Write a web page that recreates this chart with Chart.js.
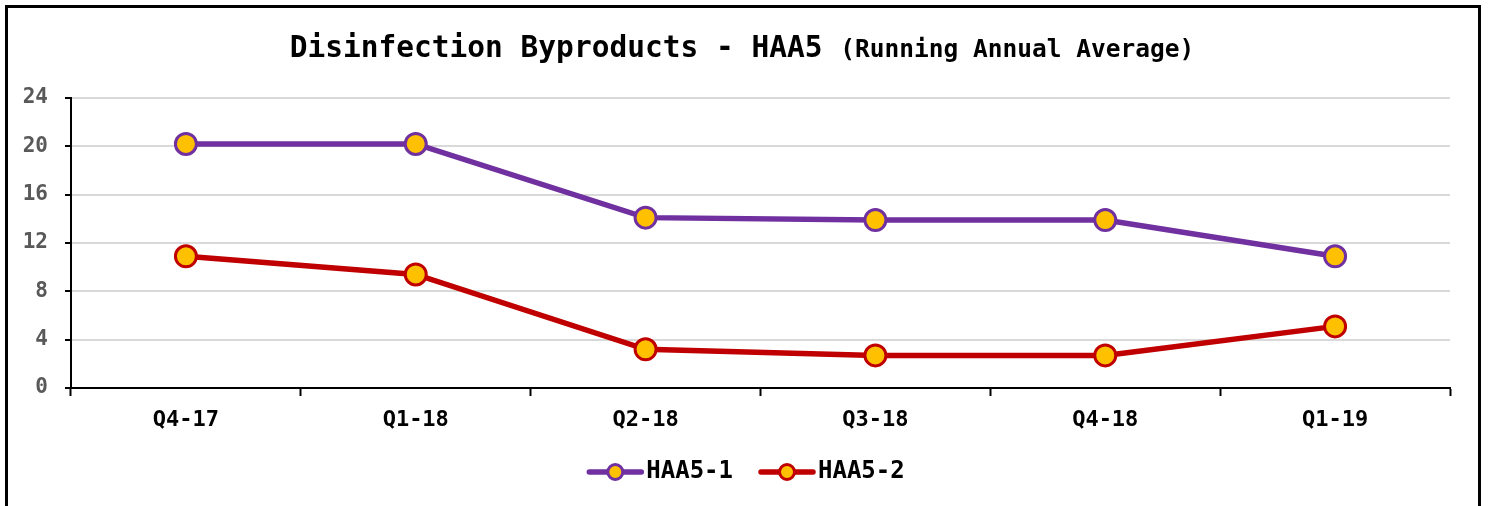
<!DOCTYPE html>
<html>
<head>
<meta charset="utf-8">
<script src="https://cdn.jsdelivr.net/npm/chart.js@4.4.1/dist/chart.umd.min.js"></script>
<style>
    html, body { margin: 0; padding: 0; background: #fff; }
    #wrap { position: relative; width: 1489px; height: 506px; overflow: hidden; }
    #frame { position: absolute; left: 5px; top: 5px; width: 1470px; height: 600px; border: 3px solid #000; }
    #box { position: absolute; left: 0; top: 0; width: 1489px; height: 506px; }
</style>
</head>
<body>
<div id="wrap">
    <div id="frame"></div>
    <div id="box"><canvas id="dbpChart"></canvas></div>
</div>
<script>
const quarters = ['Q4-17', 'Q1-18', 'Q2-18', 'Q3-18', 'Q4-18', 'Q1-19'];
const haa5One = [20.2, 20.2, 14.1, 13.9, 13.9, 10.9];
const haa5Two = [10.9, 9.4, 3.2, 2.7, 2.7, 5.1];
const seriesNames = ['HAA5-1', 'HAA5-2'];
const seriesColors = ['#7030A0', '#C00000'];
const markerFill = '#FFC000';
const titleMain = 'Disinfection Byproducts - HAA5';
const titleSub = '(Running Annual Average)';

const MONO = '"DejaVu Sans Mono", "Liberation Mono", monospace';

// title in two sizes, like the original
const titlePlugin = {
    id: 'twoPartTitle',
    afterDraw(chart) {
        const ctx = chart.ctx;
        ctx.save();
        ctx.fillStyle = '#000';
        ctx.textBaseline = 'alphabetic';
        ctx.font = 'bold 29.5px ' + MONO;
        const w1 = ctx.measureText(titleMain + ' ').width;
        ctx.font = 'bold 24.5px ' + MONO;
        const w2 = ctx.measureText(titleSub).width;
        let x = 742 - (w1 + w2) / 2;
        ctx.font = 'bold 29.5px ' + MONO;
        ctx.fillText(titleMain, x, 57);
        ctx.font = 'bold 24.5px ' + MONO;
        ctx.fillText(titleSub, x + w1, 57);
        ctx.restore();
    }
};

// legend drawn as line + marker, the way the spreadsheet does it
const legendPlugin = {
    id: 'lineLegend',
    afterDraw(chart) {
        const ctx = chart.ctx;
        const sets = chart.data.datasets;
        const lineLen = 56, textGap = 3, itemGap = 26, y = 472;
        ctx.save();
        ctx.font = 'bold 24px ' + MONO;
        const widths = sets.map(ds => ctx.measureText(ds.label).width);
        let total = 0;
        widths.forEach((w, i) => { total += lineLen + textGap + w + (i ? itemGap : 0); });
        let x = 746 - total / 2;
        sets.forEach((ds, i) => {
            ctx.strokeStyle = ds.borderColor;
            ctx.lineWidth = 5.5;
            ctx.lineCap = 'round';
            ctx.beginPath();
            ctx.moveTo(x + 2, y);
            ctx.lineTo(x + lineLen - 2, y);
            ctx.stroke();
            ctx.beginPath();
            ctx.arc(x + lineLen / 2, y, 7.5, 0, Math.PI * 2);
            ctx.fillStyle = ds.pointBackgroundColor;
            ctx.fill();
            ctx.lineWidth = 3;
            ctx.stroke();
            ctx.fillStyle = '#000';
            ctx.textBaseline = 'middle';
            ctx.fillText(ds.label, x + lineLen + textGap, y);
            x += lineLen + textGap + widths[i] + itemGap;
        });
        ctx.restore();
    }
};

function makeSet(label, values, color) {
    return {
        label: label,
        data: values,
        borderColor: color,
        borderWidth: 5.5,
        pointBackgroundColor: markerFill,
        pointBorderColor: color,
        pointBorderWidth: 3,
        pointRadius: 10.5,
        pointHoverRadius: 10.5,
        tension: 0
    };
}

new Chart(document.getElementById('dbpChart').getContext('2d'), {
    type: 'line',
    data: {
        labels: quarters,
        datasets: [
            makeSet(seriesNames[0], haa5One, seriesColors[0]),
            makeSet(seriesNames[1], haa5Two, seriesColors[1])
        ]
    },
    options: {
        responsive: true,
        maintainAspectRatio: false,
        animation: false,
        layout: { padding: { top: 98, right: 39, bottom: 0, left: 0 } },
        scales: {
            x: {
                offset: true,
                grid: { offset: true, drawOnChartArea: false, tickLength: 8, tickColor: '#000', tickWidth: 2 },
                border: { color: '#000', width: 2 },
                ticks: { color: '#000', padding: 11, font: { family: MONO, size: 22, weight: 'bold' } },
                afterFit: scale => { scale.height = 118; }
            },
            y: {
                min: 0,
                max: 24,
                ticks: { stepSize: 4, color: '#595959', padding: 17, font: { family: MONO, size: 21, weight: 'bold' } },
                grid: { color: '#d9d9d9', lineWidth: 2, tickLength: 6, tickColor: '#000', tickWidth: 2 },
                border: { color: '#000', width: 2 },
                afterFit: scale => { scale.width = 71; }
            }
        },
        plugins: {
            legend: { display: false },
            title: { display: false },
            tooltip: { enabled: false }
        }
    },
    plugins: [titlePlugin, legendPlugin]
});
</script>
</body>
</html>
